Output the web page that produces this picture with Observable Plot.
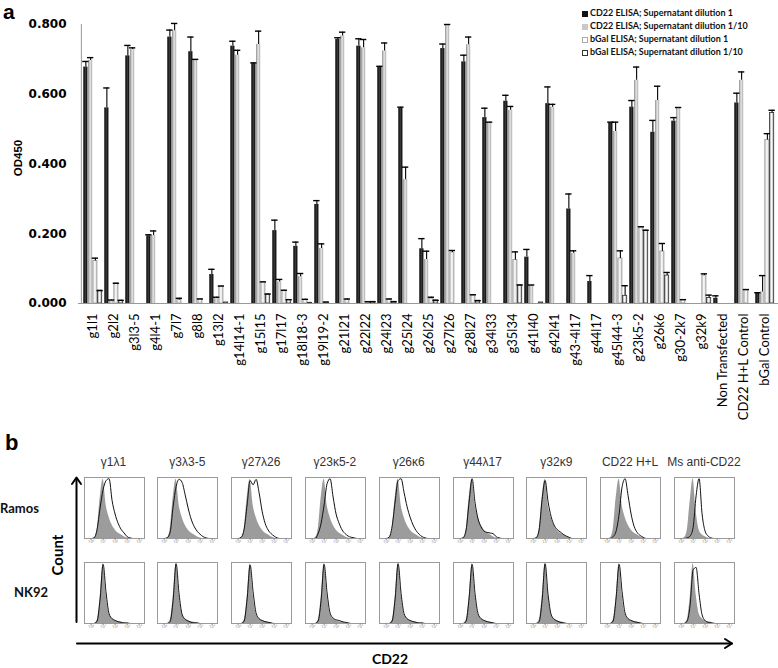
<!DOCTYPE html>
<html><head><meta charset="utf-8">
<script src="https://cdn.jsdelivr.net/npm/d3@7"></script>
<script src="https://cdn.jsdelivr.net/npm/@observablehq/plot@0.6"></script>
<style>
body{margin:0;background:#fff;}
#fig{position:relative;width:778px;height:668px;overflow:hidden;font-family:"Liberation Sans",Arial,sans-serif;color:#000;}
#fig .abs{position:absolute;white-space:nowrap;}
#fig svg{overflow:visible;}
.leg{position:absolute;left:582px;font:bold 9px Lato,sans-serif;color:#111;}
.leg span.sw{display:inline-block;width:6px;height:6px;margin-right:2px;vertical-align:-0.5px;box-sizing:border-box;}
</style></head><body><div id="fig"></div>
<script>
// ---------- Panel a data ----------
const categories = ["g1l1","g2l2","g3l3-5","g4l4-1","g7l7","g8l8","g13l2","g14l14-1","g15l15","g17l17","g18l18-3","g19l19-2","g21l21","g22l22","g24l23","g25l24","g26l25","g27l26","g28l27","g34l33","g35l34","g41l40","g42l41","g43-4l17","g44l17","g45l44-3","g23k5-2","g26k6","g30-2k7","g32k9","Non Transfected","CD22 H+L Control","bGal Control"];
const seriesNames = ["CD22 ELISA; Supernatant dilution 1","CD22 ELISA; Supernatant dilution 1/10","bGal ELISA; Supernatant dilution 1","bGal ELISA; Supernatant dilution 1/10"];
const cd22Dil1    = [0.678,0.561,0.710,0.194,0.764,0.722,0.083,0.738,0.688,0.209,0.164,0.284,0.757,0.738,0.678,0.560,0.157,0.731,0.693,0.533,0.580,0.133,0.573,0.271,0.063,0.518,0.563,0.491,0.523,0,0.015,0.575,0.030];
const cd22Dil1Top = [0.694,0.618,0.740,0.197,0.784,0.764,0.098,0.752,0.690,0.239,0.176,0.295,0.762,0.759,0.680,0.563,0.186,0.744,0.712,0.560,0.597,0.155,0.621,0.314,0.080,0.520,0.582,0.525,0.533,0,0.022,0.603,0.031];
const cd22Dil10    = [0.697,0.008,0.728,0.195,0.782,0.699,0.014,0.712,0.743,0.062,0.077,0.158,0.767,0.733,0.724,0.355,0.126,0.800,0.742,0.518,0.554,0.052,0.563,0.144,0,0.493,0.640,0.582,0.561,0,0,0.640,0.033];
const cd22Dil10Top = [0.705,0.010,0.733,0.208,0.803,0.700,0.018,0.726,0.781,0.069,0.086,0.171,0.778,0.757,0.747,0.391,0.150,0.800,0.764,0.520,0.565,0.053,0.571,0.151,0,0.520,0.678,0.623,0.562,0,0,0.664,0.080];
const bgalDil1    = [0.122,0.058,0,0,0.010,0.012,0.049,0,0.061,0.036,0.010,0.004,0.010,0.005,0.011,0,0.014,0.146,0.023,0,0.125,0,0,0,0,0.129,0.218,0.149,0.010,0.080,0,0.038,0.469];
const bgalDil1Top = [0.130,0.058,0,0,0.015,0.013,0.050,0,0.062,0.038,0.012,0.004,0.013,0.005,0.013,0,0.018,0.152,0.025,0,0.148,0,0,0,0,0.151,0.220,0.172,0.011,0.085,0,0.040,0.487];
const bgalDil10    = [0.037,0.008,0,0,0,0,0.003,0,0.026,0.010,0.002,0,0,0.005,0.005,0,0.009,0,0.008,0,0.052,0.003,0,0,0,0.022,0.209,0.080,0,0.016,0,0,0.546];
const bgalDil10Top = [0.037,0.009,0,0,0,0,0.003,0,0.027,0.011,0.002,0,0,0.005,0.005,0,0.009,0,0.008,0,0.053,0.003,0,0,0,0.051,0.210,0.089,0,0.024,0,0,0.554];
const yTicks = [0, 0.2, 0.4, 0.6, 0.8];

// ---------- Panel b data (flow cytometry histograms, % of max count) ----------
const panelTitles = ["γ1λ1","γ3λ3-5","γ27λ26","γ23κ5-2","γ26κ6","γ44λ17","γ32κ9","CD22 H+L","Ms anti-CD22"];
const rowNames = ["Ramos","NK92"];
const histX = [-0.55,0,0.25,0.5,0.75,1,1.25,1.5,1.75,2,2.25,2.5,2.75,3,3.25,3.5,3.75,4,4.45];
const histTicks = [0,1,2,3,4];
const ramosIsotype   = [0,0,1,14,66,97,55,35,22,14,9,6,3,1,0,0,0,0,0];
const ramosMsIsotype = [0,0,1,12,60,98,45,14,6,3,1,0,0,0,0,0,0,0,0];
const nk92Isotype    = [0,0,0,5,42,98,48,16,8,5,3,2,1,0,0,0,0,0,0];
const ramosStained = [
  [0,0,1,15,50,80,95,98,62,40,25,15,9,3,1,0,0,0,0],
  [0,0,1,10,52,85,97,92,72,50,32,20,12,7,3,1,0,0,0],
  [0,0,2,15,55,95,88,97,75,45,25,14,8,4,1,0,0,0,0],
  [0,0,0,8,25,55,90,98,68,40,25,14,8,4,2,1,0,0,0],
  [0,0,2,20,60,95,98,75,52,35,22,13,7,3,1,0,0,0,0],
  [0,0,1,14,60,98,58,32,19,12,10,9,8,3,1,0,0,0,0],
  [0,0,1,14,64,95,60,36,22,15,11,7,4,2,0,0,0,0,0],
  [0,0,0,3,12,40,85,98,70,40,20,10,5,2,0,0,0,0,0],
  [0,0,0,1,4,18,70,98,40,12,4,1,0,0,0,0,0,0,0]
];
const nk92Stained = [
  [0,0,0,4,40,97,50,16,8,5,3,2,1,1,0,0,0,0,0],
  [0,0,0,3,38,98,48,15,7,4,2,1,1,0,0,0,0,0,0],
  [0,0,0,4,40,96,52,17,8,5,3,2,1,0,0,0,0,0,0],
  [0,0,0,4,38,97,50,17,9,6,5,3,2,1,0,0,0,0,0],
  [0,0,0,4,40,98,49,16,8,5,3,2,1,1,0,0,0,0,0],
  [0,0,0,4,42,97,48,16,8,5,3,2,1,0,0,0,0,0,0],
  [0,0,0,3,38,98,47,15,7,4,2,1,0,0,0,0,0,0,0],
  [0,0,0,4,42,97,52,17,8,5,3,2,1,0,0,0,0,0,0],
  [0,0,0,4,30,88,92,48,14,5,2,1,0,0,0,0,0,0,0]
];

// ---------- build ----------
const fig = document.getElementById("fig");
function addDiv(html, style){ const d=document.createElement("div"); d.className="abs"; d.innerHTML=html; Object.assign(d.style, style); fig.appendChild(d); return d; }

const values = [cd22Dil1, cd22Dil10, bgalDil1, bgalDil10];
const tops = [cd22Dil1Top, cd22Dil10Top, bgalDil1Top, bgalDil10Top];
const fills = ["url(#gS1)","url(#gS2)","url(#gS3)","url(#gS4)"];
const strokes = ["none","none","#999","#333"];
const rows = [];
values.forEach((vals,k)=>categories.forEach((c,i)=>rows.push({cat:c,k,series:seriesNames[k],v:vals[i],top:tops[k][i]})));

const W=778, ML=78, pad=0.1, n=categories.length;
const step=(W-ML)/(n-pad+2*pad), bw=step*(1-pad), q=bw/4;
const marksA=[];
for(let k=0;k<4;k++){
  marksA.push(Plot.barY(rows.filter(r=>r.k===k&&r.v>0),{x:"cat",y:"v",fill:fills[k],stroke:strokes[k],strokeWidth:0.8,insetLeft:k*q+0.3,insetRight:(3-k)*q+0.3}));
}
for(let k=0;k<4;k++){
  const d=rows.filter(r=>r.k===k&&r.v>0.003&&r.top>r.v);
  marksA.push(Plot.ruleX(d,{x:"cat",y1:"v",y2:"top",dx:(k+0.5)*q-bw/2,stroke:"#000",strokeWidth:1.1}));
  marksA.push(Plot.tickY(rows.filter(r=>r.k===k&&r.v>0.003&&r.top>=r.v),{x:"cat",y:"top",insetLeft:k*q-0.8,insetRight:(3-k)*q-0.8,stroke:"#000",strokeWidth:1.4}));
}
marksA.push(Plot.ruleY([0],{stroke:"#999",strokeWidth:1}));
marksA.push(Plot.ruleX([categories[0]],{dx:-(pad*step+bw/2),stroke:"#999",strokeWidth:1}));
marksA.push(Plot.axisY({ticks:yTicks,tickFormat:d3.format(".3f"),tickSize:0,tickPadding:12,fontFamily:"DejaVu Sans",fontWeight:"bold",fontSize:12,label:null}));
marksA.push(Plot.axisX({tickRotate:-90,tickSize:0,tickPadding:10,fontFamily:"Lato",fontSize:13,label:null}));

const chartA = Plot.plot({
  width:W, height:420, marginLeft:ML, marginRight:0, marginTop:24, marginBottom:117,
  x:{domain:categories, padding:pad},
  y:{domain:[0,0.8]},
  style:{background:"transparent",color:"#000",fontFamily:"Lato",overflow:"visible"},
  marks:marksA
});
// gradients for the Excel-like bars
const NS="http://www.w3.org/2000/svg";
const defs=document.createElementNS(NS,"defs");
[["gS1",["#000","#3a3a3a","#000"]],["gS2",["#8a8a8a","#e8e8e8","#ababab"]],["gS3",["#c4c4c4","#ffffff","#c4c4c4"]],["gS4",["#9a9a9a","#ffffff","#9a9a9a"]]].forEach(([id,cols])=>{
  const g=document.createElementNS(NS,"linearGradient");
  g.setAttribute("id",id); g.setAttribute("x1","0"); g.setAttribute("x2","1"); g.setAttribute("y1","0"); g.setAttribute("y2","0");
  cols.forEach((c,i)=>{const s=document.createElementNS(NS,"stop"); s.setAttribute("offset",(i/(cols.length-1)*100)+"%"); s.setAttribute("stop-color",c); g.appendChild(s);});
  defs.appendChild(g);
});
chartA.insertBefore(defs, chartA.firstChild);
chartA.style.position="absolute"; chartA.style.left="0px"; chartA.style.top="0px";
fig.appendChild(chartA);

addDiv("a",{left:"3px",top:"0px",font:"bold 21px 'Liberation Sans',Arial,sans-serif"});
addDiv("OD450",{left:"18px",top:"158px",font:"bold 11.5px 'Liberation Sans',Arial,sans-serif",transform:"translate(-50%,-50%) rotate(-90deg)"});

// legend
const swatch=[["#111","#111"],["#c8c8c8","#c8c8c8"],["#fff","#aaa"],["#fff","#333"]];
seriesNames.forEach((s,k)=>{
  const d=document.createElement("div"); d.className="leg";
  d.style.top=(7+k*13)+"px";
  d.innerHTML=`<span class="sw" style="background:${swatch[k][0]};border:1.2px solid ${swatch[k][1]}"></span>${s}`;
  fig.appendChild(d);
});

// ---------- Panel b ----------
addDiv("b",{left:"5px",top:"430px",font:"bold 22px 'Liberation Sans',Arial,sans-serif"});
const sup=["⁰","¹","²","³","⁴"];
const rowTop=[476,561];
panelTitles.forEach((t,i)=>{
  const left=83.5+i*73.8;
  addDiv(t,{left:(left+30)+"px",top:"455px",transform:"translateX(-50%)",font:"12px 'Liberation Sans',Arial,sans-serif",color:"#333"});
  [ramosStained, nk92Stained].forEach((stained,r)=>{
    const iso = r===0 ? (i===8 ? ramosMsIsotype : ramosIsotype) : nk92Isotype;
    const pts = histX.map((x,j)=>({x, g:iso[j], b:stained[i][j]}));
    const p = Plot.plot({
      width:62, height:72, marginTop:1, marginLeft:1, marginRight:1, marginBottom:10,
      x:{domain:[-0.55,4.45]}, y:{domain:[0,100], axis:null},
      style:{background:"transparent",color:"#888",overflow:"visible"},
      marks:[
        Plot.areaY(pts,{x:"x",y:"g",fill:"#9c9c9c",curve:"monotone-x"}),
        Plot.lineY(pts,{x:"x",y:"b",stroke:"#111",strokeWidth:1,curve:"monotone-x"}),
        Plot.frame({stroke:"#9a9a9a"}),
        Plot.axisX({ticks:histTicks,tickSize:2,tickPadding:0,fontSize:4,tickFormat:d=>"10"+sup[d],label:null,fill:"#888"})
      ]
    });
    p.style.position="absolute"; p.style.left=(left-1)+"px"; p.style.top=rowTop[r]+"px";
    fig.appendChild(p);
  });
});
addDiv(rowNames[0],{left:"0px",top:"500px",font:"bold 13px Lato,sans-serif",color:"#111"});
addDiv(rowNames[1],{left:"14px",top:"584px",font:"bold 13px Lato,sans-serif",color:"#111"});
addDiv("Count",{left:"57px",top:"555px",font:"bold 15px Lato,sans-serif",transform:"translate(-50%,-50%) rotate(-90deg)"});
addDiv("CD22",{left:"390px",top:"650px",transform:"translateX(-50%)",font:"bold 14px Lato,sans-serif"});

// axis arrows (decoration)
const arr=document.createElementNS(NS,"svg");
arr.setAttribute("width","778"); arr.setAttribute("height","668");
arr.style.position="absolute"; arr.style.left="0"; arr.style.top="0"; arr.style.pointerEvents="none";
arr.innerHTML=`<g fill="none" stroke="#000" stroke-width="2" stroke-linecap="round" stroke-linejoin="round">
<line x1="76.5" y1="622" x2="76.5" y2="479"/><polyline points="72,484 76.5,477.5 81,484"/>
<line x1="77" y1="643.5" x2="732" y2="643.5"/><polyline points="725,639 732,643.5 725,648"/></g>`;
fig.appendChild(arr);
</script></body></html>
